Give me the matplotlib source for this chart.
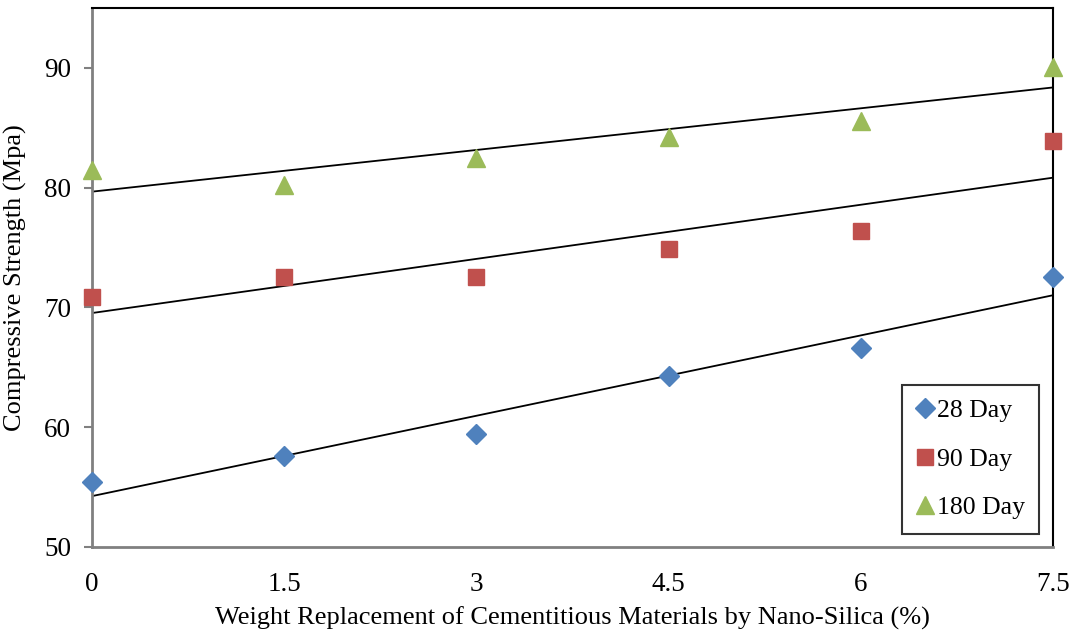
import numpy as np
import matplotlib
matplotlib.use('Agg')
import matplotlib.pyplot as plt

plt.rcParams['font.family'] = ['Liberation Serif', 'DejaVu Serif']

# nano-silica replacement (%)
x = [0, 1.5, 3, 4.5, 6, 7.5]
day28 = [55.4, 57.6, 59.4, 64.3, 66.6, 72.5]
day90 = [70.9, 72.5, 72.5, 74.9, 76.4, 83.9]
day180 = [81.5, 80.2, 82.5, 84.2, 85.6, 90.1]

series = [
    ('28 Day', day28, 'D', '#4F81BD', 10.5),
    ('90 Day', day90, 's', '#C0504D', 12),
    ('180 Day', day180, '^', '#9BBB59', 13),
]

fig = plt.figure(figsize=(10.76, 6.35), dpi=100)
ax = fig.add_axes([0.0855, 0.1386, 0.8931, 0.8488])

xs = np.array(x)
for name, vals, m, c, ms in series:
    ax.plot(xs, vals, linestyle='none', marker=m, color=c, markersize=ms,
            label=name, zorder=3, clip_on=False)
    # linear trendline
    k, b = np.polyfit(xs, vals, 1)
    xl = np.array([0, 7.5])
    ax.plot(xl, k * xl + b, color='black', lw=1.3, zorder=2)

ax.set_xlim(0, 7.5)
ax.set_ylim(50, 95)
ax.set_xticks(x)
ax.set_xticklabels(['0', '1.5', '3', '4.5', '6', '7.5'])
ax.set_yticks([50, 60, 70, 80, 90])
ax.tick_params(axis='x', length=0, pad=18, labelsize=19.5)
ax.tick_params(axis='y', length=6, width=1.5, color='#808080', labelsize=19.5, pad=9)

for s in ['left', 'bottom']:
    ax.spines[s].set_color('#808080')
    ax.spines[s].set_linewidth(2)
for s in ['top', 'right']:
    ax.spines[s].set_color('black')
    ax.spines[s].set_linewidth(1.5)

ax.set_xlabel('Weight Replacement of Cementitious Materials by Nano-Silica (%)',
              fontsize=19, labelpad=7)
ax.set_ylabel('Compressive Strength (Mpa)', fontsize=19, labelpad=12)

leg = ax.legend(loc='lower right', bbox_to_anchor=(0.9855, 0.025), fontsize=18.5,
                frameon=True, fancybox=False, handletextpad=0.15,
                handlelength=0.65, labelspacing=1.0, borderpad=0.55,
                borderaxespad=0)
leg.get_frame().set_edgecolor('black')
leg.get_frame().set_linewidth(1.5)

fig.savefig('out.png', dpi=100)
